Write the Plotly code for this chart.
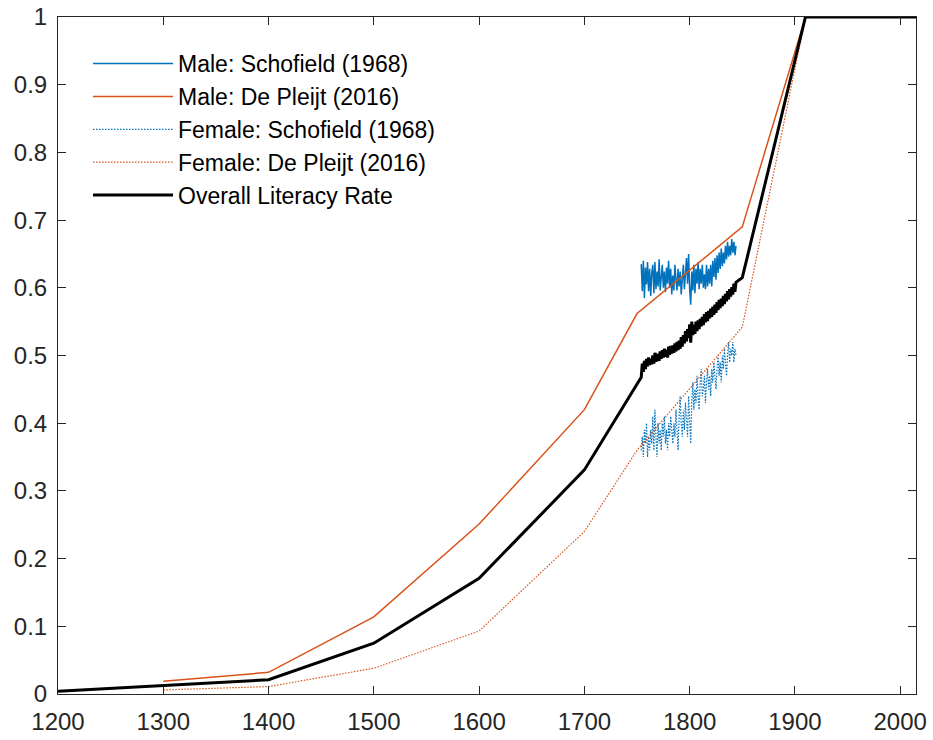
import plotly.graph_objects as go

# ---- De Pleijt (2016) benchmark years and values ----
pleijt_years = [1300, 1400, 1500, 1600, 1700, 1750, 1850, 1910, 2015]
male_pleijt = [0.019, 0.032, 0.114, 0.251, 0.420, 0.562, 0.690, 1.0, 1.0]
female_pleijt = [0.006, 0.011, 0.038, 0.093, 0.240, 0.360, 0.542, 1.0, 1.0]

# ---- Schofield (1968) annual series ----
schofield_years = list(range(1754, 1845))
male_schofield = [
    0.635, 0.595, 0.640, 0.585, 0.630, 0.605, 0.638, 0.595, 0.628, 0.588,
    0.622, 0.634, 0.592, 0.638, 0.598, 0.624, 0.602, 0.642, 0.596, 0.618,
    0.634, 0.600, 0.624, 0.594, 0.630, 0.606, 0.640, 0.600, 0.628, 0.590,
    0.618, 0.596, 0.634, 0.612, 0.596, 0.628, 0.602, 0.624, 0.590, 0.612,
    0.634, 0.598, 0.628, 0.644, 0.606, 0.650, 0.598, 0.575, 0.624, 0.596,
    0.634, 0.592, 0.628, 0.606, 0.638, 0.598, 0.628, 0.606, 0.634, 0.600,
    0.620, 0.598, 0.634, 0.602, 0.628, 0.606, 0.634, 0.602, 0.640, 0.616,
    0.644, 0.612, 0.648, 0.622, 0.652, 0.628, 0.658, 0.632, 0.652, 0.636,
    0.662, 0.642, 0.668, 0.646, 0.662, 0.648, 0.672, 0.652, 0.668, 0.648, 0.662,
]
female_schofield = [
    0.36, 0.38, 0.35, 0.39, 0.37, 0.40, 0.35, 0.38, 0.36, 0.39,
    0.37, 0.41, 0.36, 0.42, 0.38, 0.35, 0.40, 0.37, 0.39, 0.36,
    0.40, 0.38, 0.41, 0.37, 0.39, 0.36, 0.40, 0.38, 0.41, 0.39,
    0.37, 0.40, 0.38, 0.42, 0.39, 0.36, 0.41, 0.44, 0.40, 0.38,
    0.42, 0.39, 0.43, 0.40, 0.38, 0.44, 0.41, 0.37, 0.43, 0.46,
    0.42, 0.45, 0.43, 0.47, 0.44, 0.42, 0.46, 0.48, 0.44, 0.45,
    0.47, 0.43, 0.46, 0.48, 0.45, 0.47, 0.44, 0.48, 0.46, 0.49,
    0.47, 0.45, 0.48, 0.50, 0.47, 0.49, 0.46, 0.50, 0.48, 0.51,
    0.49, 0.47, 0.50, 0.52, 0.49, 0.51, 0.50, 0.52, 0.49, 0.51, 0.50,
]

# ---- Overall literacy rate ----
overall_years_early = [1200, 1300, 1400, 1500, 1600, 1700]
overall_early = [0.004, 0.013, 0.021, 0.075, 0.171, 0.331]
overall_schofield = [
    0.468, 0.488, 0.476, 0.492, 0.480, 0.495, 0.484, 0.497, 0.486, 0.495,
    0.487, 0.500, 0.488, 0.504, 0.491, 0.499, 0.502, 0.492, 0.506, 0.495,
    0.508, 0.497, 0.510, 0.498, 0.508, 0.497, 0.513, 0.501, 0.514, 0.503,
    0.515, 0.504, 0.518, 0.506, 0.520, 0.508, 0.522, 0.510, 0.527, 0.513,
    0.530, 0.518, 0.536, 0.521, 0.539, 0.526, 0.546, 0.519, 0.550, 0.530,
    0.545, 0.532, 0.550, 0.536, 0.552, 0.539, 0.554, 0.543, 0.557, 0.545,
    0.561, 0.549, 0.564, 0.551, 0.566, 0.555, 0.569, 0.557, 0.572, 0.560,
    0.575, 0.563, 0.579, 0.567, 0.582, 0.570, 0.584, 0.573, 0.588, 0.576,
    0.591, 0.580, 0.595, 0.583, 0.598, 0.587, 0.601, 0.590, 0.606, 0.594, 0.608,
]
overall_years_late = [1850, 1910, 2015]
overall_late = [0.615, 1.0, 1.0]

overall_years = overall_years_early + schofield_years + overall_years_late
overall = overall_early + overall_schofield + overall_late

x_ticks = [1200, 1300, 1400, 1500, 1600, 1700, 1800, 1900, 2000]
y_ticks = [0, 0.1, 0.2, 0.3, 0.4, 0.5, 0.6, 0.7, 0.8, 0.9, 1]
y_tick_text = ["0", "0.1", "0.2", "0.3", "0.4", "0.5", "0.6", "0.7", "0.8", "0.9", "1"]

BLUE = "#0072BD"
ORANGE = "#D95319"
AXIS = "#262626"
FONT = "Liberation Sans, Arial, sans-serif"

fig = go.Figure()
fig.add_trace(go.Scatter(x=schofield_years, y=male_schofield, mode="lines",
                         name="Male: Schofield (1968)",
                         line=dict(color=BLUE, width=1.5)))
fig.add_trace(go.Scatter(x=pleijt_years, y=male_pleijt, mode="lines",
                         name="Male: De Pleijt (2016)",
                         line=dict(color=ORANGE, width=1.5)))
fig.add_trace(go.Scatter(x=schofield_years, y=female_schofield, mode="lines",
                         name="Female: Schofield (1968)",
                         line=dict(color=BLUE, width=1.2, dash="1.5px,1.5px")))
fig.add_trace(go.Scatter(x=pleijt_years, y=female_pleijt, mode="lines",
                         name="Female: De Pleijt (2016)",
                         line=dict(color=ORANGE, width=1.2, dash="1.5px,1.5px")))
fig.add_trace(go.Scatter(x=overall_years, y=overall, mode="lines",
                         name="Overall Literacy Rate",
                         line=dict(color="black", width=3)))

axis_common = dict(
    showgrid=False, zeroline=False, showline=True, linecolor=AXIS, linewidth=1,
    mirror="ticks", ticks="inside", ticklen=8, tickwidth=1, tickcolor=AXIS,
    tickfont=dict(family=FONT, size=24, color=AXIS), automargin=False,
)

fig.update_layout(
    width=933, height=740,
    margin=dict(l=58, r=17, t=17, b=46, pad=0),
    paper_bgcolor="white", plot_bgcolor="white",
    showlegend=True,
    legend=dict(x=0.035, y=0.963, xanchor="left", yanchor="top",
                bgcolor="rgba(0,0,0,0)", borderwidth=0,
                font=dict(family=FONT, size=23, color="black"),
                itemwidth=80, traceorder="normal"),
    xaxis=dict(range=[1200, 2015], tickvals=x_ticks, ticklabelstandoff=6, **axis_common),
    yaxis=dict(range=[0, 1], tickvals=y_ticks, ticktext=y_tick_text, ticklabelstandoff=5, **axis_common),
)

fig.write_html("out.html",
               config={"displayModeBar": False},
               post_script="document.body.style.margin='0';document.body.style.overflow='hidden';")
